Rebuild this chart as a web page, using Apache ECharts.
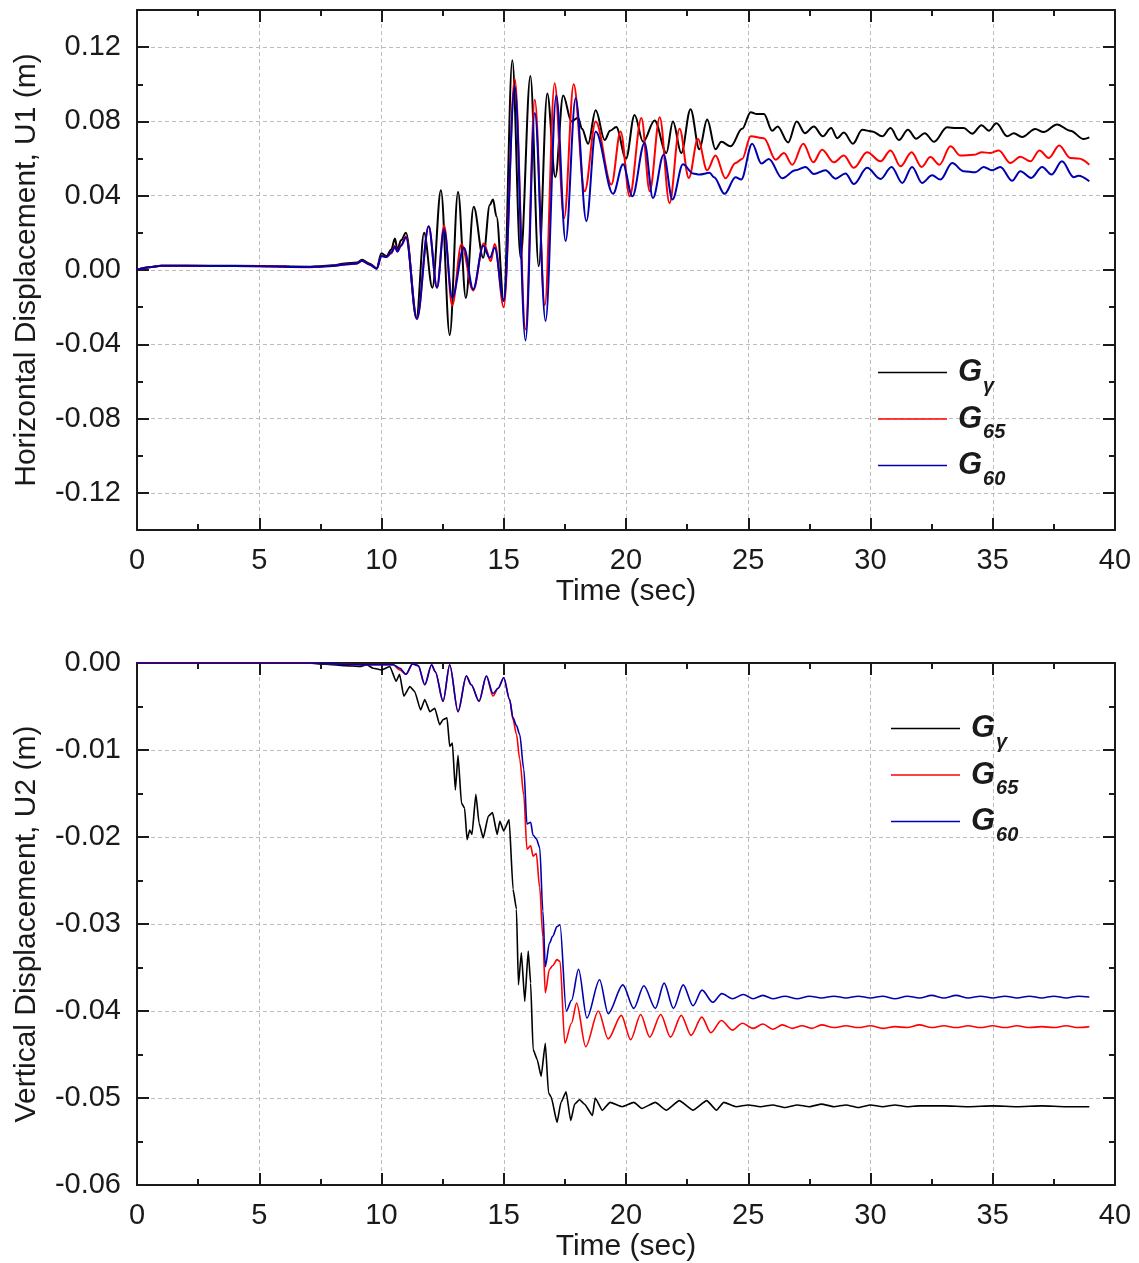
<!DOCTYPE html>
<html>
<head>
<meta charset="utf-8">
<script src="https://cdn.jsdelivr.net/npm/echarts@6/dist/echarts.min.js"></script>
<style>
html,body{margin:0;padding:0;background:#fff;}
#chart{width:1139px;height:1263px;}
</style>
</head>
<body>
<div id="chart"></div>
<script>
// ---------- DATA ----------
const seriesNames = ['G\u03b3', 'G65', 'G60'];
const xTicks = [0, 5, 10, 15, 20, 25, 30, 35, 40];
const topYTicks = [-0.12, -0.08, -0.04, 0.00, 0.04, 0.08, 0.12];
const bottomYTicks = [-0.06, -0.05, -0.04, -0.03, -0.02, -0.01, 0.00];

// Horizontal displacement U1 (m) vs time (s)
const u1Gg = [[0,0],[0.5,0.0015],[1,0.0023],[3,0.0023],[5,0.0022],[7,0.0018],[7.5,0.002],[8,0.0025],[8.5,0.0035],[9,0.004],
[9.2,0.0055],[9.5,0.0035],[9.8,0.001],[10,0.009],[10.2,0.0075],[10.4,0.011],[10.55,0.017],[10.65,0.011],[10.8,0.016],[11,0.02],
[11.43,-0.026],[11.74,0.02],[12.08,-0.0095],[12.43,0.043],[12.79,-0.035],[13.13,0.042],[13.45,-0.015],[13.77,0.034],[14.16,0.0066],[14.43,0.035],
[14.56,0.038],[14.7,0.029],[15,-0.0167],[15.35,0.113],[15.69,0.0066],[16.09,0.1045],[16.43,0.002],[16.78,0.095],[17.11,0.05],[17.43,0.094],
[17.77,0.08],[18.04,0.082],[18.2,0.076],[18.45,0.068],[18.76,0.086],[19.13,0.07],[19.35,0.075],[19.6,0.077],[20,0.06],[20.35,0.0835],
[20.7,0.069],[21.17,0.0805],[21.65,0.063],[21.92,0.08],[22.26,0.063],[22.64,0.0866],[23,0.065],[23.32,0.081],[23.66,0.065],[23.9,0.069],
[24.28,0.0666],[24.75,0.076],[25.1,0.085],[25.35,0.084],[25.64,0.084],[25.98,0.075],[26.2,0.0773],[26.63,0.0687],[26.98,0.08],[27.32,0.0737],
[27.68,0.0773],[28.05,0.072],[28.39,0.0764],[28.64,0.071],[28.91,0.074],[29.28,0.068],[29.66,0.0755],[30.07,0.0746],[30.48,0.072],[30.82,0.0764],
[31.16,0.07],[31.53,0.0755],[31.87,0.0707],[32.22,0.0737],[32.6,0.069],[33.13,0.0768],[33.5,0.0765],[33.81,0.0764],[34.16,0.0734],[34.54,0.078],
[34.84,0.075],[35.15,0.079],[35.59,0.072],[35.86,0.0737],[36.2,0.0716],[36.74,0.0759],[37.08,0.0743],[37.63,0.0784],[38.17,0.075],[38.72,0.0705],
[38.95,0.0714]];

const u1G65 = [[0,0],[0.5,0.0015],[1,0.0023],[3,0.0022],[5,0.002],[7,0.0015],[7.5,0.0017],[8,0.0022],[8.5,0.003],[9,0.0035],
[9.2,0.005],[9.5,0.003],[9.8,0.0008],[10,0.0075],[10.2,0.007],[10.4,0.009],[10.55,0.013],[10.65,0.01],[10.8,0.0135],[11,0.018],
[11.45,-0.026],[11.93,0.0236],[12.27,-0.0095],[12.56,0.024],[12.89,-0.019],[13.27,0.0138],[13.75,-0.011],[14.18,0.0143],[14.47,0.0048],[14.63,0.014],
[15,-0.02],[15.45,0.103],[15.89,-0.032],[16.27,0.0917],[16.68,-0.019],[17.08,0.1006],[17.47,0.028],[17.86,0.1],[18.31,0.0424],[18.76,0.08],
[19.4,0.046],[19.78,0.0746],[20.15,0.0397],[20.63,0.0818],[20.97,0.0424],[21.38,0.0823],[21.78,0.036],[22.19,0.076],[22.57,0.0496],[22.94,0.0705],
[23.32,0.0537],[23.66,0.0616],[24.07,0.0494],[24.48,0.0576],[24.75,0.0598],[25.1,0.072],[25.64,0.071],[26.12,0.0594],[26.46,0.063],[26.8,0.0567],
[27.25,0.068],[27.66,0.058],[28.02,0.0648],[28.5,0.058],[28.91,0.0616],[29.32,0.055],[29.86,0.0634],[30.41,0.0585],[30.82,0.0644],[31.23,0.0558],
[31.68,0.0634],[32.09,0.0555],[32.45,0.0608],[32.82,0.0567],[33.27,0.0666],[33.68,0.0616],[34.22,0.062],[34.56,0.0634],[34.9,0.063],[35.25,0.0644],
[35.72,0.0576],[36.13,0.061],[36.54,0.0585],[36.91,0.0644],[37.29,0.0603],[37.72,0.067],[38.17,0.0603],[38.51,0.06],[38.95,0.0567]];

const u1G60 = [[0,0],[0.5,0.0015],[1,0.0023],[3,0.0022],[5,0.002],[7,0.0016],[7.5,0.0018],[8,0.0022],[8.5,0.003],[9,0.0035],
[9.2,0.005],[9.5,0.003],[9.8,0.0007],[10,0.0075],[10.2,0.007],[10.4,0.0095],[10.55,0.0125],[10.65,0.01],[10.8,0.013],[11,0.0175],
[11.45,-0.0265],[11.93,0.0236],[12.27,-0.0095],[12.56,0.022],[12.89,-0.015],[13.37,0.012],[13.75,-0.0104],[14.16,0.013],[14.43,0.0066],[14.63,0.012],
[15,-0.0167],[15.45,0.099],[15.89,-0.038],[16.27,0.0845],[16.71,-0.0274],[17.15,0.094],[17.53,0.0156],[17.94,0.0925],[18.38,0.0263],[18.76,0.0746],
[19.47,0.041],[19.88,0.057],[20.26,0.0397],[20.76,0.0684],[21.1,0.0388],[21.54,0.062],[21.9,0.038],[22.33,0.057],[22.74,0.052],[23.0,0.0514],
[23.42,0.0523],[23.6,0.05],[24.03,0.041],[24.48,0.05],[24.71,0.0487],[25.16,0.068],[25.54,0.0573],[25.84,0.0598],[26.39,0.0494],[26.93,0.0537],
[27.34,0.0555],[27.68,0.0517],[28.16,0.0537],[28.57,0.0492],[28.98,0.052],[29.32,0.0463],[29.86,0.055],[30.41,0.049],[30.86,0.0555],[31.3,0.0469],
[31.7,0.0555],[32.11,0.0469],[32.52,0.051],[32.86,0.0487],[33.34,0.0576],[33.81,0.0532],[34.29,0.0526],[34.63,0.0555],[34.97,0.0537],[35.31,0.0555],
[35.79,0.0481],[36.13,0.0532],[36.57,0.0496],[37.02,0.0555],[37.4,0.0514],[37.83,0.0585],[38.31,0.05],[38.5,0.0507],[38.95,0.0478]];

// Vertical displacement U2 (m) vs time (s)
const u2Gg = [[0,0],[7,0],[7.5,-0.0001],[8,-0.0002],[8.5,-0.0003],[9.11,-0.0004],[9.4,-0.0002],[9.66,-0.0006],[10,-0.0008],[10.34,-0.0004],
[10.6,-0.0021],[10.74,-0.0013],[10.91,-0.0038],[11.16,-0.0027],[11.36,-0.0033],[11.6,-0.0054],[11.77,-0.0042],[11.98,-0.0056],[12.18,-0.0052],[12.38,-0.0071],
[12.52,-0.0065],[12.68,-0.0063],[12.79,-0.0096],[12.9,-0.0092],[13.02,-0.0146],[13.13,-0.0106],[13.27,-0.0161],[13.4,-0.0167],[13.5,-0.0203],[13.61,-0.0192],
[13.7,-0.0197],[13.86,-0.0151],[13.99,-0.0184],[14.16,-0.0201],[14.37,-0.0176],[14.54,-0.0172],[14.73,-0.0197],[14.84,-0.0182],[15,-0.0193],[15.22,-0.018],
[15.38,-0.026],[15.52,-0.0283],[15.6,-0.037],[15.72,-0.0333],[15.86,-0.0389],[16,-0.0331],[16.1,-0.0368],[16.2,-0.0444],[16.37,-0.0456],[16.53,-0.0475],
[16.7,-0.0437],[16.83,-0.0494],[16.94,-0.0499],[17.18,-0.0528],[17.34,-0.0505],[17.55,-0.0493],[17.74,-0.0526],[17.9,-0.0507],[18.1,-0.0502],[18.3,-0.0507],
[18.63,-0.052],[18.74,-0.05],[19.03,-0.0514],[19.35,-0.0505],[19.84,-0.051],[20.32,-0.0505],[20.65,-0.0512],[21.2,-0.0505],[21.65,-0.0514],[22.18,-0.0503],
[22.74,-0.0514],[23.3,-0.0503],[23.7,-0.0514],[24,-0.0505],[24.5,-0.051],[25,-0.0508],[25.5,-0.051],[26,-0.0508],[26.5,-0.0511],[27,-0.0508],
[27.5,-0.051],[28,-0.0507],[28.5,-0.051],[29,-0.0508],[29.5,-0.0511],[30,-0.0508],[30.5,-0.051],[31,-0.0508],[31.5,-0.051],[32,-0.0509],
[33,-0.0509],[34,-0.051],[35,-0.0509],[36,-0.051],[37,-0.0509],[38,-0.051],[38.95,-0.051]];

const u2G65 = [[0,0],[7,0],[8,-0.0001],[9,-0.0002],[10,-0.0002],[10.48,-0.0002],[10.75,-0.0008],[11,-0.0013],[11.27,-0.0001],[11.5,-0.0003],
[11.77,-0.0025],[12.05,-0.0002],[12.2,-0.001],[12.52,-0.0044],[12.79,-0.0002],[13.13,-0.0056],[13.47,-0.0015],[13.67,-0.0025],[13.99,-0.0044],[14.29,-0.0015],
[14.56,-0.0038],[14.77,-0.0029],[15,-0.0017],[15.24,-0.0042],[15.38,-0.0065],[15.52,-0.0082],[15.65,-0.011],[15.82,-0.0152],[15.95,-0.0214],[16.1,-0.021],
[16.2,-0.0222],[16.33,-0.0219],[16.47,-0.0258],[16.6,-0.0315],[16.7,-0.0379],[16.87,-0.0352],[17,-0.0348],[17.18,-0.0341],[17.3,-0.0343],[17.5,-0.0437],
[17.77,-0.0414],[17.98,-0.0391],[18.35,-0.0441],[18.87,-0.04],[19.27,-0.0432],[19.81,-0.0405],[20.19,-0.0433],[20.6,-0.0404],[20.97,-0.043],[21.42,-0.0404],
[21.82,-0.043],[22.26,-0.0405],[22.66,-0.0428],[23.1,-0.0407],[23.47,-0.0425],[23.9,-0.0411],[24.35,-0.0422],[24.76,-0.0414],[25.2,-0.042],[25.6,-0.0415],
[26,-0.0421],[26.4,-0.0416],[26.8,-0.042],[27.2,-0.0417],[27.6,-0.042],[28,-0.0416],[28.5,-0.0419],[29,-0.0417],[29.5,-0.0419],[30,-0.0417],
[30.5,-0.042],[31,-0.0418],[31.5,-0.0419],[32,-0.0416],[32.5,-0.0419],[33,-0.0417],[33.5,-0.0419],[34,-0.0417],[34.5,-0.0419],[35,-0.0417],
[35.5,-0.0419],[36,-0.0417],[36.5,-0.0419],[37,-0.0418],[37.5,-0.0419],[38,-0.0417],[38.5,-0.0419],[38.95,-0.0418]];

const u2G60 = [[0,0],[7,0],[8,-0.0001],[9,-0.0002],[10,-0.0002],[10.48,-0.0002],[10.75,-0.0006],[11,-0.0013],[11.27,-0.0001],[11.5,-0.0003],
[11.77,-0.0025],[12.05,-0.0002],[12.2,-0.001],[12.52,-0.0044],[12.79,-0.0002],[13.13,-0.0056],[13.47,-0.0015],[13.67,-0.0025],[13.99,-0.0044],[14.29,-0.0015],
[14.56,-0.0035],[14.77,-0.0029],[15,-0.0017],[15.24,-0.0042],[15.38,-0.0063],[15.52,-0.0072],[15.65,-0.0082],[15.82,-0.0122],[15.95,-0.0185],[16.1,-0.0183],
[16.2,-0.0198],[16.33,-0.0202],[16.47,-0.0212],[16.6,-0.0285],[16.7,-0.0349],[16.87,-0.0322],[17,-0.0314],[17.18,-0.0303],[17.3,-0.0301],[17.56,-0.04],
[17.77,-0.0388],[18.06,-0.0352],[18.4,-0.0408],[18.92,-0.0364],[19.27,-0.0403],[19.87,-0.037],[20.32,-0.0397],[20.73,-0.0371],[21.2,-0.0397],[21.56,-0.0368],
[21.94,-0.0397],[22.34,-0.037],[22.74,-0.0394],[23.11,-0.0376],[23.55,-0.039],[23.92,-0.038],[24.35,-0.0386],[24.8,-0.0381],[25.2,-0.0386],[25.6,-0.0382],
[26,-0.0386],[26.5,-0.0383],[27,-0.0386],[27.5,-0.0383],[28,-0.0385],[28.5,-0.0383],[29,-0.0385],[29.5,-0.0383],[30,-0.0385],[30.5,-0.0383],
[31,-0.0386],[31.5,-0.0383],[32,-0.0385],[32.5,-0.0382],[33,-0.0385],[33.5,-0.0382],[34,-0.0385],[34.5,-0.0383],[35,-0.0385],[35.5,-0.0383],
[36,-0.0385],[36.5,-0.0383],[37,-0.0385],[37.5,-0.0383],[38,-0.0385],[38.5,-0.0383],[38.95,-0.0384]];

// ---------- STYLE / LAYOUT ----------
const FONT = '"Liberation Sans", Arial, sans-serif';
const INK = '#1a1a1a';
const COLORS = ['#000000', '#ff0000', '#0000b0'];
const GRID_L = 137, GRID_W = 978;
const TOP = {top: 10, height: 520, min: -0.14, max: 0.14};
const BOT = {top: 663, height: 522};
const pxPerUnit = TOP.height / (TOP.max - TOP.min);
const innerTop = TOP.top + (TOP.max - topYTicks[topYTicks.length - 1]) * pxPerUnit;
const innerH = (topYTicks[topYTicks.length - 1] - topYTicks[0]) * pxPerUnit;

const LABEL_FS = 29, NAME_FS = 30;
const lineStyleAxis = {show: true, onZero: false, lineStyle: {color: INK, width: 2}};
const tickStyle = {show: true, inside: true, length: 12, lineStyle: {color: INK, width: 2}};
const minorStyle = {show: true, splitNumber: 2, length: 6, lineStyle: {color: INK, width: 2}};
const splitDashed = {show: true, lineStyle: {color: '#bdbdbd', width: 1, type: [4, 3]}};
const labelStyle = {color: INK, fontSize: LABEL_FS, fontFamily: FONT};
const nameStyle = {color: INK, fontSize: NAME_FS, fontFamily: FONT};
const fmt2 = v => (Math.abs(v) < 1e-9 ? '0.00' : v.toFixed(2));

function xAxisPair(grid) {
  return [
    {type: 'value', gridIndex: grid, position: 'bottom', min: xTicks[0], max: xTicks[xTicks.length - 1], interval: 5,
     axisLine: lineStyleAxis, axisTick: tickStyle, minorTick: minorStyle, splitLine: splitDashed,
     axisLabel: Object.assign({margin: 16}, labelStyle),
     name: 'Time (sec)', nameLocation: 'middle', nameGap: 47, nameTextStyle: nameStyle},
    {type: 'value', gridIndex: grid, position: 'top', min: xTicks[0], max: xTicks[xTicks.length - 1], interval: 5,
     axisLine: lineStyleAxis, axisTick: tickStyle, minorTick: minorStyle, splitLine: {show: false},
     axisLabel: {show: false}}
  ];
}

const legendRich = {
  g: {fontSize: 31, fontWeight: 'bold', fontStyle: 'italic', fontFamily: FONT, color: INK,
      verticalAlign: 'top', padding: [8, 0, 0, 6]},
  s: {fontSize: 20, fontWeight: 'bold', fontStyle: 'italic', fontFamily: FONT, color: INK,
      verticalAlign: 'top', padding: [27, 0, 0, 1]}
};
function legendAt(left, top) {
  return {
    orient: 'vertical', left: left, top: top, data: seriesNames,
    icon: 'rect', itemWidth: 69, itemHeight: 1.5, itemGap: 7.5,
    formatter: n => '{g|G}{s|' + n.slice(1) + '}',
    textStyle: {rich: legendRich},
    selectedMode: false
  };
}

function lineSeries(name, data, color, xi, yi, smooth, width) {
  return {
    name: name, type: 'line', data: data, xAxisIndex: xi, yAxisIndex: yi,
    symbol: 'none', smooth: smooth, smoothMonotone: 'x',
    lineStyle: {color: color, width: width}, itemStyle: {color: color},
    animation: false, z: 5
  };
}

const option = {
  backgroundColor: '#ffffff',
  animation: false,
  grid: [
    {left: GRID_L, width: GRID_W, top: TOP.top, height: TOP.height},
    {left: GRID_L, width: GRID_W, top: BOT.top, height: BOT.height},
    {left: GRID_L, width: GRID_W, top: innerTop, height: innerH}
  ],
  legend: [legendAt(873, 352), legendAt(886, 708)],
  xAxis: [
    ...xAxisPair(0),
    ...xAxisPair(1),
    {type: 'value', gridIndex: 2, min: 0, max: 40, show: false}
  ],
  yAxis: [
    {type: 'value', gridIndex: 0, position: 'left', min: TOP.min, max: TOP.max,
     axisLine: lineStyleAxis, axisTick: {show: false}, axisLabel: {show: false}, splitLine: {show: false},
     name: 'Horizontal Displacement, U1 (m)', nameLocation: 'middle', nameGap: 95, nameTextStyle: nameStyle},
    {type: 'value', gridIndex: 0, position: 'right', min: TOP.min, max: TOP.max,
     axisLine: lineStyleAxis, axisTick: {show: false}, axisLabel: {show: false}, splitLine: {show: false}},
    {type: 'value', gridIndex: 1, position: 'left', min: bottomYTicks[0], max: bottomYTicks[bottomYTicks.length - 1], interval: 0.01,
     axisLine: lineStyleAxis, axisTick: tickStyle, minorTick: minorStyle, splitLine: splitDashed,
     axisLabel: Object.assign({margin: 16, formatter: fmt2}, labelStyle),
     name: 'Vertical Displacement, U2 (m)', nameLocation: 'middle', nameGap: 95, nameTextStyle: nameStyle},
    {type: 'value', gridIndex: 1, position: 'right', min: bottomYTicks[0], max: bottomYTicks[bottomYTicks.length - 1], interval: 0.01,
     axisLine: lineStyleAxis, axisTick: tickStyle, minorTick: minorStyle, splitLine: {show: false}, axisLabel: {show: false}},
    {type: 'value', gridIndex: 2, position: 'left', min: topYTicks[0], max: topYTicks[topYTicks.length - 1], interval: 0.04,
     axisLine: {show: false}, axisTick: tickStyle, minorTick: minorStyle, splitLine: splitDashed,
     axisLabel: Object.assign({margin: 16, formatter: fmt2}, labelStyle)},
    {type: 'value', gridIndex: 2, position: 'right', min: topYTicks[0], max: topYTicks[topYTicks.length - 1], interval: 0.04,
     axisLine: {show: false}, axisTick: tickStyle, minorTick: minorStyle, splitLine: {show: false}, axisLabel: {show: false}}
  ],
  series: [
    lineSeries(seriesNames[0], u1Gg, COLORS[0], 0, 0, 0.35, 2),
    lineSeries(seriesNames[1], u1G65, COLORS[1], 0, 0, 0.35, 2),
    lineSeries(seriesNames[2], u1G60, COLORS[2], 0, 0, 0.35, 2),
    lineSeries(seriesNames[0], u2Gg, COLORS[0], 2, 2, 0.15, 1.6),
    lineSeries(seriesNames[1], u2G65, COLORS[1], 2, 2, 0.3, 1.6),
    lineSeries(seriesNames[2], u2G60, COLORS[2], 2, 2, 0.3, 1.6)
  ]
};
const chart = echarts.init(document.getElementById('chart'), null, {renderer: 'canvas'});
chart.setOption(option);
</script>
</body>
</html>
